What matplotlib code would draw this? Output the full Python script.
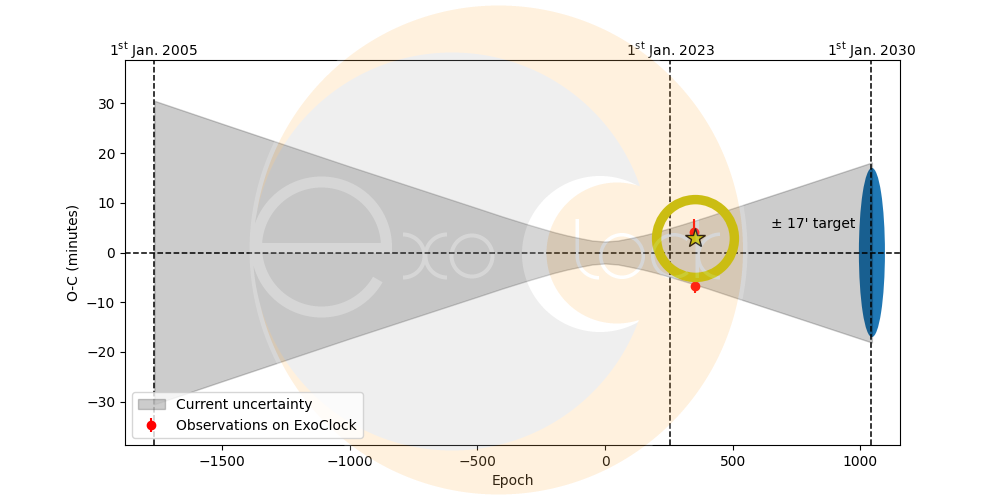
import numpy as np
import matplotlib
matplotlib.use("Agg")
import matplotlib.pyplot as plt
from matplotlib.patches import Ellipse

# --- data ---
band_epochs = [-1765, -1500, -1000, -750, -500, -400, -300, -250, -200, -150, -100, -50, 0,
               50, 100, 150, 200, 250, 300, 400, 500, 750, 1045]
band_half = [30.5, 25.9, 17.3, 13.1, 8.9, 7.2, 5.6, 4.85, 4.1, 3.45, 2.9, 2.4, 2.2,
             2.4, 2.9, 3.45, 4.1, 4.85, 5.6, 7.2, 8.9, 13.1, 18.1]
obs_epochs = [350, 354]
obs_oc = [4.2, -6.7]
obs_err = [2.5, 1.5]
star_epoch = [353]
star_oc = [2.9]
date_epochs = [-1767, 255, 1042]
date_labels = [r"1$^{\rm st}$ Jan. 2005", r"1$^{\rm st}$ Jan. 2023", r"1$^{\rm st}$ Jan. 2030"]
target_minutes = 17
target_epoch = 1045
target_halfwidth = 51
ylabel = "O-C (minutes)"
xlabel = "Epoch"

fig = plt.figure(figsize=(10, 5), dpi=100)

# --- main axes ---
ax = fig.add_axes([0.125, 0.11, 0.775, 0.77], zorder=1)
ax.set_xlim(-1880, 1155)
ax.set_ylim(-38.7, 38.7)

ax.add_patch(Ellipse((target_epoch, 0), 2 * target_halfwidth, 2 * target_minutes,
                     fc="C0", ec="none", zorder=1))
band = ax.fill_between(band_epochs, [-v for v in band_half], band_half, color="k", alpha=0.2,
                       label="Current uncertainty", zorder=2)
ax.axhline(0, color="k", ls="--", lw=1.1, zorder=3)
for e, lab in zip(date_epochs, date_labels):
    ax.axvline(e, color="k", ls="--", lw=1.1, zorder=3)
    ax.text(e, 1.0104, lab, transform=ax.get_xaxis_transform(), ha="center", va="baseline", fontsize=10)
obs = ax.errorbar(obs_epochs, obs_oc, yerr=obs_err, fmt="o", color="r", ms=6, zorder=4,
                  label="Observations on ExoClock")
ax.plot(star_epoch, star_oc, marker="o", ms=56, mfc="none", mec="y", mew=6.8, ls="none", zorder=5)
ax.plot(star_epoch, star_oc, marker="*", ms=15, mfc="y", mec="k", mew=1.0, ls="none", zorder=6)
ax.text(650, 5.7, "\u00b1 17' target", ha="left", va="center", fontsize=10)
ax.set_xlabel(xlabel)
ax.set_ylabel(ylabel)

# --- translucent logo laid over the plot, built as a figure-sized image ---
S = 4
Y, X = np.mgrid[0:500 * S, 0:1000 * S]
X = (X + 0.5) / S
Y = (Y + 0.5) / S


def disc(cx, cy, r):
    return (X - cx) ** 2 + (Y - cy) ** 2 <= r ** 2


def ring(cx, cy, ro, ri):
    return disc(cx, cy, ro) & ~disc(cx, cy, ri)


def angle(cx, cy):
    return np.degrees(np.arctan2(Y - cy, X - cx)) % 360


def rect(x0, x1, y0, y1):
    return (X >= x0) & (X <= x1) & (Y >= y0) & (Y <= y1)


WHITE = (255, 255, 255)
ORANGE = (255, 186, 92)
GREY = (178, 178, 178)
rgb = np.full(X.shape + (3,), 255, dtype=float)
opaque = disc(498.5, 250, 249)
rgb[disc(498.5, 250, 244.5)] = ORANGE
grey = disc(452, 251.5, 199)
rgb[grey] = GREY
rgb[grey & disc(600, 254, 78)] = WHITE
rgb[grey & disc(617, 253, 70.5)] = ORANGE
opaque |= grey

letters = ring(321.5, 247, 70.5, 59.5) & (angle(321.5, 247) >= 30)
letters |= rect(256, 392, 243, 253)
# x
letters |= ring(403, 256, 23.5, 19.5) & (X >= 403)
letters |= ring(447, 256, 23.5, 19.5) & (X <= 447)
# o
letters |= ring(472, 256, 22.5, 18.5)
# l
letters |= rect(575.5, 579, 219, 256)
letters |= ring(599, 256, 23.5, 20) & (X <= 599) & (Y >= 256)
# o
letters |= ring(622, 256, 23, 19.5)
# c
theta = angle(674, 256)
letters |= ring(674, 256, 23, 19.5) & (theta >= 50) & (theta <= 310)
# k
letters |= rect(695.5, 699, 219, 278)
letters |= ring(720, 256, 23.5, 20) & (X <= 720)
rgb[letters] = WHITE

alpha = np.where(opaque, 0.2, 0.0)
rgba = np.dstack([rgb / 255, alpha])
rgba = rgba.reshape(500, S, 1000, S, 4).mean(axis=(1, 3))

over = fig.add_axes([0, 0, 1, 1], zorder=2)
over.imshow(rgba, extent=(0, 1000, 500, 0), aspect="auto", interpolation="nearest")
over.axis("off")

# --- legend stays above the logo ---
top = fig.add_axes([0.125, 0.11, 0.775, 0.77], zorder=3)
top.axis("off")
top.legend([band, obs], ["Current uncertainty", "Observations on ExoClock"], loc="lower left", fontsize=10)

fig.savefig("out.png", dpi=100)
